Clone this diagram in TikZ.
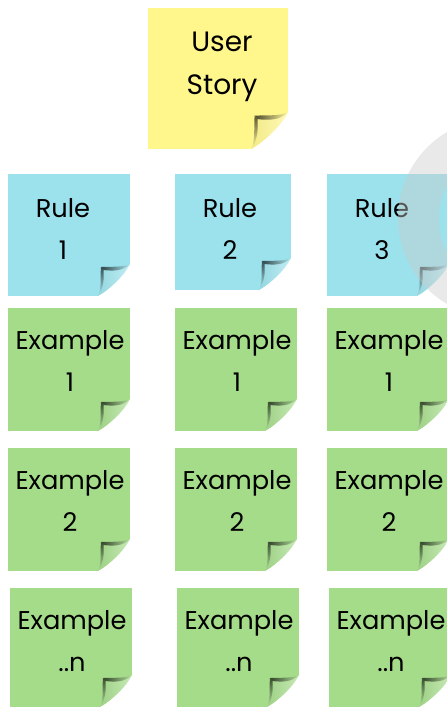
\documentclass[tikz,border=0pt]{standalone}
\usepackage{fontspec}
\setmainfont{Poppins}
\definecolor{yel}{HTML}{FFF68C}
\definecolor{blu}{HTML}{9BE2EC}
\definecolor{gre}{HTML}{A5DC8A}
\newcommand{\curlscale}{1}
\newcommand{\notecard}[6]{% name, x1, y1, x2, y2, colour
  \fill[#6] (#2,#3) rectangle (#4,#5);
  \begin{scope}[shift={(#4,#5)},scale=\curlscale]
    % torn-off corner
    \fill[white] (0.5,0.5) -- (-33,0.5) .. controls (-20,-6) and (-8,-20) .. (0.5,-33) -- cycle;
    % flap
    \shade[shading angle=45,left color=#6!95!black,right color=#6!62!white] (0,-32) .. controls (-6,-20) and (-20,-7) .. (-32,0)
        .. controls (-27,-9) and (-29,-18) .. (-28,-28)
        .. controls (-18,-27) and (-7,-26) .. (0,-32) -- cycle;
    % shadow of the fold
    \shade[left color=black!70!#6,right color=#6!85!white]
        (-29,-29) .. controls (-18,-29.5) and (-7,-28.5) .. (0,-32)
        .. controls (-7,-24.5) and (-18,-25) .. (-26.5,-26) -- cycle;
    \shade[top color=black!65!#6,bottom color=#6!85!white]
        (-29,-29) .. controls (-30,-18) and (-28,-9) .. (-32,0)
        .. controls (-26,-9) and (-26,-18) .. (-26.5,-26) -- cycle;
  \end{scope}
  \coordinate (#1) at (#2,#3);
}
\tikzset{lbl/.style={font=\fontsize{25.7}{42}\selectfont,align=center,text=black,anchor=center,inner sep=0pt},
  bigl/.style={lbl,font=\fontsize{28}{43}\selectfont}}
\begin{document}
\begin{tikzpicture}[x=1pt,y=-1pt]
\clip (0,0) rectangle (447,707);
\fill[white] (0,0) rectangle (447,707);
\renewcommand{\curlscale}{1.15}
\notecard{us}{148}{8}{288}{149}{yel}
\renewcommand{\curlscale}{1}
\node[bigl] (tus) at (222,67) {User\\Story};
\notecard{r1}{8}{174}{130}{296}{blu}
\node[lbl] (tr1) at (63,229) {Rule\\1};
\notecard{r2}{175}{174}{291}{290}{blu}
\node[lbl] (tr2) at (230,229) {Rule\\2};
\notecard{r3}{327}{174}{449}{296}{blu}
\node[lbl] (tr3) at (382,229) {Rule\\3};
\notecard{a1}{8}{308}{130}{431}{gre}
\node[lbl] (ta1) at (70,361) {Example\\1};
\notecard{a2}{175}{308}{297}{431}{gre}
\node[lbl] (ta2) at (237,361) {Example\\1};
\notecard{a3}{327}{308}{449}{431}{gre}
\node[lbl] (ta3) at (389,361) {Example\\1};
\notecard{b1}{8}{448}{130}{571}{gre}
\node[lbl] (tb1) at (70,501) {Example\\2};
\notecard{b2}{175}{448}{297}{571}{gre}
\node[lbl] (tb2) at (237,501) {Example\\2};
\notecard{b3}{327}{448}{449}{571}{gre}
\node[lbl] (tb3) at (389,501) {Example\\2};
\notecard{c1}{10}{588}{132}{707}{gre}
\node[lbl] (tc1) at (72,641) {Example\\..n};
\notecard{c2}{177}{588}{299}{707}{gre}
\node[lbl] (tc2) at (239,641) {Example\\..n};
\notecard{c3}{329}{588}{451}{707}{gre}
\node[lbl] (tc3) at (391,641) {Example\\..n};
% translucent ring over the right edge
\fill[black!20,opacity=.42,even odd rule] (498,218) circle (100) (515,219) circle (76);
\end{tikzpicture}
\end{document}
